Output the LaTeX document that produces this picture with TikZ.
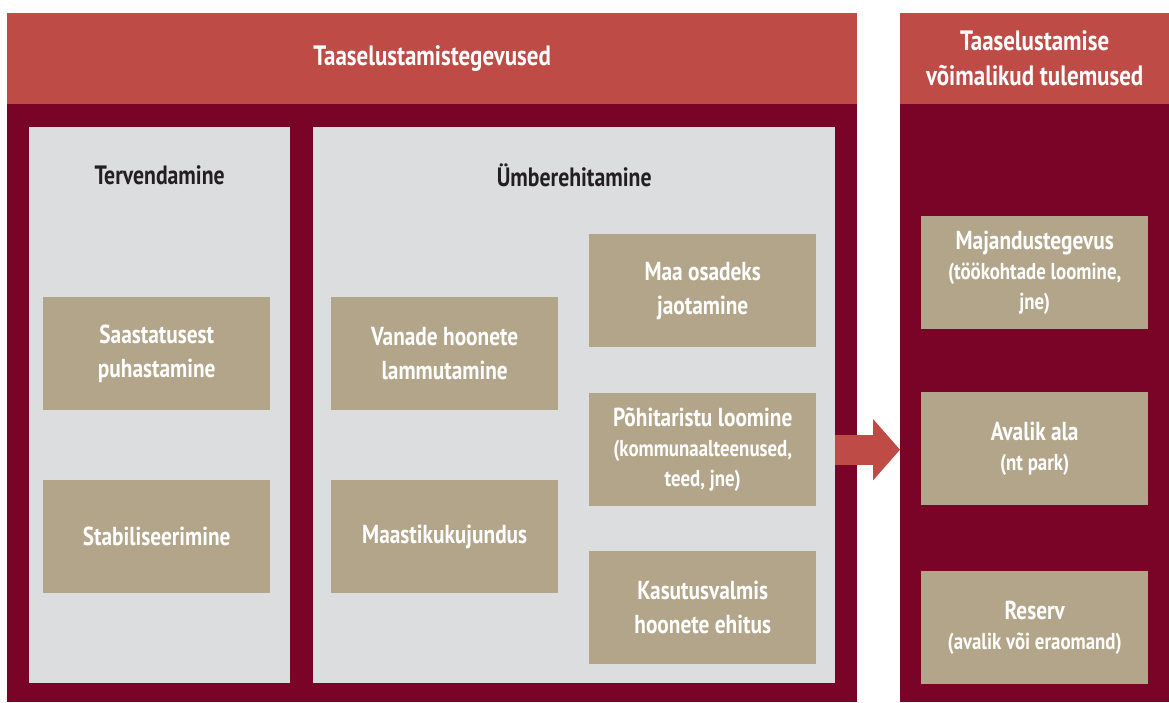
\documentclass[tikz,border=0pt]{standalone}
\usepackage{fontspec}
\setmainfont{PT Sans}[FakeStretch=0.82]
\usetikzlibrary{arrows.meta,positioning}

\definecolor{veinipunane}{HTML}{7A0428}
\definecolor{telliskivi}{HTML}{BE4B45}
\definecolor{hall}{HTML}{DCDDDF}
\definecolor{liiv}{HTML}{B3A58A}
\definecolor{tumetekst}{HTML}{231F20}

\newcommand{\alam}[1]{{\fontsize{23}{30}\selectfont #1}}

\begin{document}
\begin{tikzpicture}[
    x=1pt, y=-1pt,
    panel/.style={rectangle, fill=veinipunane, inner sep=0pt, anchor=north west},
    header/.style={rectangle, fill=telliskivi, inner sep=0pt, anchor=north west, align=center,
        text=white, font=\bfseries\fontsize{28}{35}\selectfont},
    inner/.style={rectangle, fill=hall, inner sep=0pt, anchor=north west},
    title/.style={text=tumetekst, font=\bfseries\fontsize{26.5}{30}\selectfont},
    tanbox/.style={rectangle, fill=liiv, minimum width=227pt, minimum height=113pt, inner sep=0pt,
        anchor=north west, align=center, text=white, font=\bfseries\fontsize{26}{34}\selectfont},
    tansub/.style={tanbox, font=\bfseries\fontsize{26}{30}\selectfont},
    bigarrow/.style={-{Triangle[length=27pt, width=60pt]}, line width=30pt, draw=telliskivi}
]
    \useasboundingbox (0,0) rectangle (1169,702);

    % left part: activities
    \node[panel, minimum width=850pt, minimum height=689pt] (tegev) at (7,13) {};
    \node[header, minimum width=850pt, minimum height=91pt] (tegevpea) at (7,13) {Taaselustamistegevused};
    \node[inner, minimum width=261pt, minimum height=556pt] (terv) at (29,127) {};
    \node[inner, minimum width=522pt, minimum height=556pt] (ymb) at (313,127) {};
    \node[title] (tervpea) at ([yshift=-48pt]terv.north) {Tervendamine};
    \node[title] (ymbpea) at ([yshift=-48pt]ymb.north) {Ümberehitamine};

    \node[tanbox] (saast) at (43,297) {Saastatusest\\puhastamine};
    \node[tanbox] (stab) at (43,480) {Stabiliseerimine};
    \node[tanbox] (lamm) at (331,297) {Vanade hoonete\\lammutamine};
    \node[tanbox] (maast) at (331,480) {Maastikukujundus};
    \node[tanbox] (jaot) at (589,234) {Maa osadeks\\jaotamine};
    \node[tansub] (tar) at (589,393)
        {Põhitaristu loomine\\\alam{(kommunaalteenused,}\\\alam{teed, jne)}};
    \node[tanbox] (ehit) at (589,551) {Kasutusvalmis\\hoonete ehitus};

    % right part: outcomes
    \node[panel, minimum width=269pt, minimum height=689pt] (tulem) at (900,13) {};
    \node[header, minimum width=269pt, minimum height=91pt] (tulempea) at (900,13)
        {Taaselustamise\\võimalikud tulemused};
    \node[tansub] (maj) at (921,216)
        {Majandustegevus\\\alam{(töökohtade loomine,}\\\alam{jne)}};
    \node[tansub] (avalik) at (921,392) {Avalik ala\\\alam{(nt park)}};
    \node[tansub] (reserv) at (921,571) {Reserv\\\alam{(avalik või eraomand)}};

    \draw[bigarrow] (ymb.east |- tar.east) -- (tulem.west |- tar.east);
\end{tikzpicture}
\end{document}
